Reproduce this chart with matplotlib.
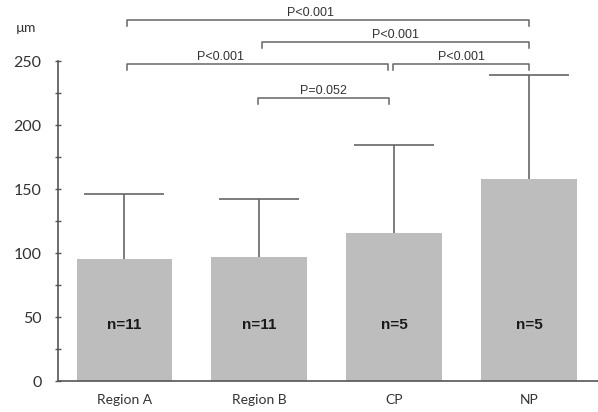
import matplotlib
matplotlib.use("Agg")
import matplotlib.pyplot as plt
import numpy as np

categories = ["Region A", "Region B", "CP", "NP"]
means = [95.3, 96.6, 115.4, 157.8]
sd_upper = [50.6, 45.6, 68.7, 81.0]
n_labels = ["n=11", "n=11", "n=5", "n=5"]

# comparisons: (left bar, right bar, label)
comparisons = [(0, 3, "P<0.001"), (1, 3, "P<0.001"), (0, 2, "P<0.001"),
               (2, 3, "P<0.001"), (1, 2, "P=0.052")]
bracket_y = [282, 264.6, 247.4, 247.4, 220.9]

bar_col = "#bdbdbd"
line_col = "#666666"

fig = plt.figure(figsize=(5.98, 4.12), dpi=100)
ax = fig.add_axes([0.0975, 0.0752, 0.9025, 0.7767])

x = np.arange(len(categories))
ax.bar(x, means, width=0.71, color=bar_col, zorder=1)
eb = ax.errorbar(x, means, yerr=[np.zeros(len(means)), sd_upper], fmt="none",
                 ecolor=line_col, elinewidth=1.2, capsize=29, capthick=1.2,
                 zorder=2)
# only the upper cap
eb[1][0].set_visible(False)

for i, lab in enumerate(n_labels):
    ax.text(x[i], 44, lab, ha="center", va="center", fontsize=11,
            fontweight="bold", family="Liberation Sans", color="#1a1a1a")

ax.set_xlim(-0.49, 3.51)
ax.set_ylim(0, 250)
ax.set_yticks([0, 50, 100, 150, 200, 250])
ax.set_yticks(np.arange(25, 250, 50), minor=True)
ax.set_xticks(x)
ax.set_xticklabels(categories, family="Lato", fontsize=10, color="#333333")
ax.tick_params(axis="x", length=0, pad=9)
ax.tick_params(axis="y", which="both", direction="inout", length=4,
               width=1, color="#555555", pad=10, labelsize=11.5,
               labelcolor="#333333")
for t in ax.get_yticklabels():
    t.set_family("Lato")
for s in ["top", "right"]:
    ax.spines[s].set_visible(False)
for s in ["left", "bottom"]:
    ax.spines[s].set_color("#555555")
    ax.spines[s].set_linewidth(1.2)

# significance brackets
leg = 4.5
for k, (a, b, lab) in enumerate(comparisons):
    y = bracket_y[k]
    xa = x[a] + 0.02
    xb = x[b]
    if a == 0 and b == 2:
        xb = x[b] - 0.05
    if a == 2:
        xa = x[a] - 0.01
    if a == 1 and b == 2:
        xa = x[a] - 0.01
        xb = x[b] - 0.04
    ax.plot([xa, xa, xb, xb], [y - leg, y, y, y - leg], color=line_col,
            lw=1.1, clip_on=False)
    tx = (xa + xb) / 2
    if k == 0:
        tx = 1.38
    elif k == 2:
        tx = 0.71
    ax.text(tx, y + 0.8, lab, ha="center", va="bottom", fontsize=9,
            family="Liberation Sans", color="#333333", clip_on=False)

fig.text(16 / 598, 1 - 28 / 412, "µm", ha="left", va="center",
         fontsize=10, family="Lato", color="#333333")

fig.savefig("out.png", dpi=100)
